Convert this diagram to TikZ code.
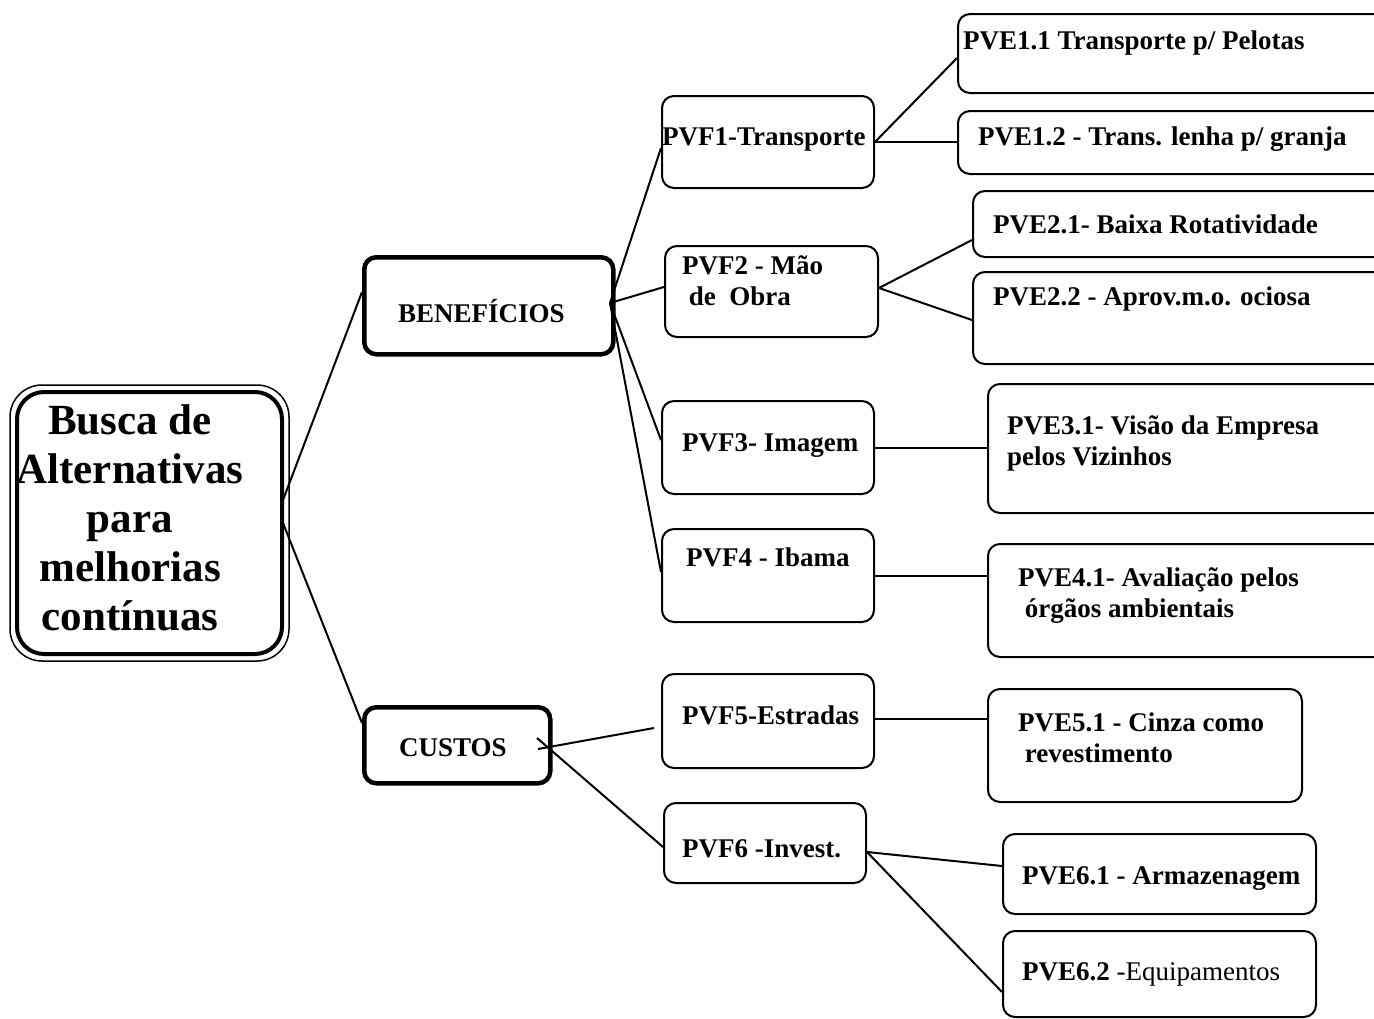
\documentclass[tikz,border=0pt]{standalone}
\usepackage{fontspec}
\setmainfont{Liberation Serif}
\begin{document}
\begin{tikzpicture}[x=1pt,y=-1pt,
  box/.style={draw, line width=2pt, rounded corners=12pt, anchor=north west,
    inner sep=0pt, minimum width=#1},
  box/.default=212pt,
  heavy/.style={box=#1, line width=4.5pt},
  lbl/.style={anchor=base west, inner sep=0pt,
    font=\fontsize{27}{31}\selectfont\bfseries},
  link/.style={line width=2pt}]
\useasboundingbox (0,0) rectangle (1374,1018);
\begin{scope}
\clip (0,0) rectangle (1374,1018);

% main theme, double border
\node[box=265pt, line width=4pt, rounded corners=27pt, minimum height=262pt] (main) at (15,390) {};
\draw[line width=1.5pt, rounded corners=32pt]
  ([xshift=-5pt,yshift=5pt]main.north west) rectangle ([xshift=5pt,yshift=-5pt]main.south east);
% multi-line labels are placed by the baseline of their last line
\node[inner sep=0pt, align=center, anchor=base,
  font=\fontsize{43}{49}\selectfont\bfseries] (tmain) at (130,630)
  {Busca de\\Alternativas\\para\\melhorias\\contínuas};

% first level
\node[heavy=249pt, minimum height=97pt] (ben) at (362,255) {};
\node[lbl] (tben) at (398,322) {BENEFÍCIOS};
\node[heavy=186pt, minimum height=76pt] (cus) at (362,705) {};
\node[lbl] (tcus) at (399,756) {CUSTOS};

% second level
\node[box, minimum height=92pt] (pvf1) at (661,95) {};
\node[lbl] (tpvf1) at (662,145) {PVF1-Transporte};
\node[box=213pt, minimum height=91pt] (pvf2) at (664,245) {};
\node[lbl, align=left] (tpvf2) at (682,305) {PVF2 - Mão\\\ de\ \ Obra};
\node[box, minimum height=93pt] (pvf3) at (661,400) {};
\node[lbl] (tpvf3) at (682,451) {PVF3- Imagem};
\node[box, minimum height=93pt] (pvf4) at (661,528) {};
\node[lbl] (tpvf4) at (686,566) {PVF4 - Ibama};
\node[box, minimum height=94pt] (pvf5) at (661,673) {};
\node[lbl] (tpvf5) at (682,724) {PVF5-Estradas};
\node[box=202pt, minimum height=80pt] (pvf6) at (663,802) {};
\node[lbl] (tpvf6) at (682,857) {PVF6 -Invest.};

% third level
\node[box=440pt, minimum height=79pt] (pve11) at (957,13) {};
\node[lbl] (tpve11) at (963,49) {PVE1.1 Transporte p/ Pelotas};
\node[box=440pt, minimum height=63pt] (pve12) at (957,110) {};
\node[lbl] (tpve12) at (978,145) {PVE1.2 - Trans. lenha p/ granja};
\node[box=430pt, minimum height=66pt] (pve21) at (972,190) {};
\node[lbl] (tpve21) at (993,233) {PVE2.1- Baixa Rotatividade};
\node[box=430pt, minimum height=92pt] (pve22) at (972,271) {};
\node[lbl] (tpve22) at (993,305) {PVE2.2 - Aprov.m.o. ociosa};
\node[box=410pt, minimum height=129pt] (pve31) at (987,383) {};
\node[lbl, align=left] (tpve31) at (1007,465) {PVE3.1- Visão da Empresa\\pelos Vizinhos};
\node[box=410pt, minimum height=113pt] (pve41) at (987,543) {};
\node[lbl, align=left] (tpve41) at (1018,617) {PVE4.1- Avaliação pelos\\\ órgãos ambientais};
\node[box=314pt, minimum height=113pt] (pve51) at (987,688) {};
\node[lbl, align=left] (tpve51) at (1018,762) {PVE5.1 - Cinza como\\\ revestimento};
\node[box=313pt, minimum height=80pt] (pve61) at (1002,833) {};
\node[lbl] (tpve61) at (1022,884) {PVE6.1 - Armazenagem};
\node[box=313pt, minimum height=86pt] (pve62) at (1002,930) {};
\node[lbl] (tpve62) at (1022,980) {PVE6.2 \mdseries-Equipamentos};

% junction points on the box edges
\coordinate (mainA) at (283,500);
\coordinate (mainB) at (283,523);
\coordinate (benR) at (610,303);
\coordinate (cusX) at (537,738);
\coordinate (cusY) at (538,749);
\coordinate (pvf5end) at (654,728);

\draw[link] (mainA) -- (ben.west |- 0,292);
\draw[link] (mainB) -- (cus.west |- 0,723);

\draw[link] (benR) -- (pvf1.west |- 0,148);
\draw[link] (benR) -- (pvf2.west |- 0,287);
\draw[link] (benR) -- (pvf3.west |- 0,440);
\draw[link] (benR) -- (pvf4.west |- 0,572);

\draw[link] (cusY) -- (pvf5end);
\draw[link] (cusX) -- (pvf6.west |- 0,847);

\draw[link] (pvf1.east |- 0,142) -- (pve11.west |- 0,58);
\draw[link] (pvf1.east |- 0,142) -- (pve12.west |- 0,142);
\draw[link] (pvf2.east |- 0,288) -- (pve21.west |- 0,240);
\draw[link] (pvf2.east |- 0,288) -- (pve22.west |- 0,320);
\draw[link] (pvf3.east |- 0,448) -- (pve31.west |- 0,448);
\draw[link] (pvf4.east |- 0,576) -- (pve41.west |- 0,576);
\draw[link] (pvf5.east |- 0,719) -- (pve51.west |- 0,719);
\draw[link] (pvf6.east |- 0,852) -- (pve61.west |- 0,866);
\draw[link] (pvf6.east |- 0,852) -- (pve62.west |- 0,992);
\end{scope}
\end{tikzpicture}
\end{document}
